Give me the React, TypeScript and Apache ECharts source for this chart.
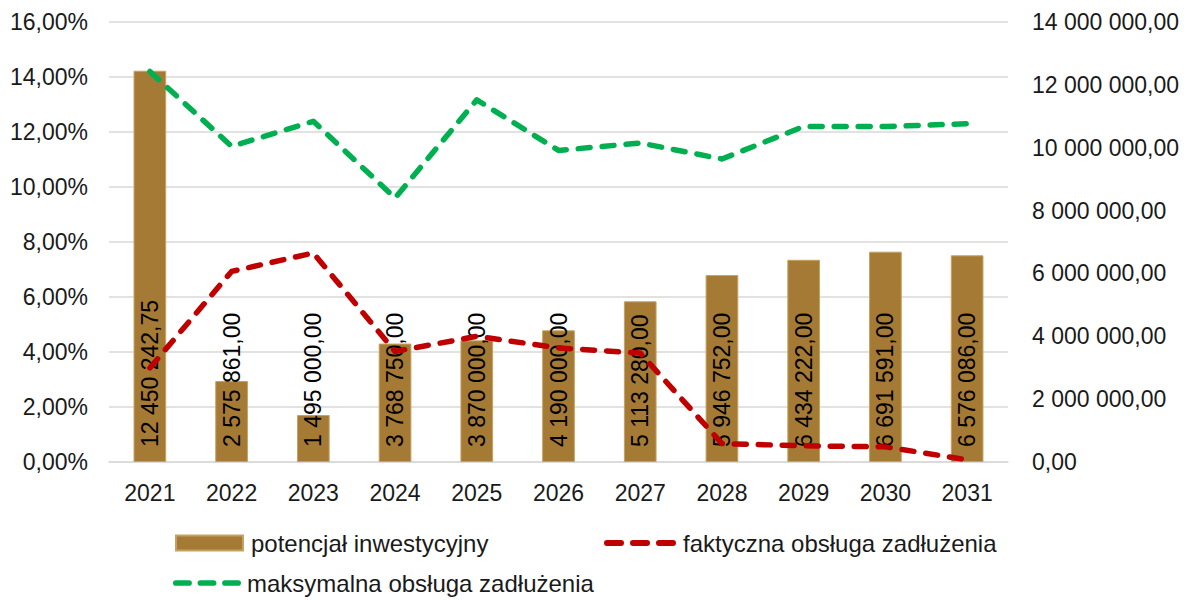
import React, { useEffect, useRef } from "react";
import * as echarts from "echarts";

const years = ["2021", "2022", "2023", "2024", "2025", "2026", "2027", "2028", "2029", "2030", "2031"];
const potencjal = [12450242.75, 2575861.0, 1495000.0, 3768750.0, 3870000.0, 4190000.0, 5113280.0, 5946752.0, 6434222.0, 6691591.0, 6576086.0];
const faktyczna = [0.0342, 0.0693, 0.0760, 0.0402, 0.0457, 0.0415, 0.0396, 0.0067, 0.0059, 0.0055, 0.0008];
const maksymalna = [0.1420, 0.1148, 0.1239, 0.0960, 0.1317, 0.1133, 0.1160, 0.1102, 0.1220, 0.1220, 0.1230];
const seriesNames = ["potencjał inwestycyjny", "faktyczna obsługa zadłużenia", "maksymalna obsługa zadłużenia"];

const FONT = "Liberation Sans, Arial, sans-serif";
const TXT = "#1a1a1a";
const DASH_ICON =
  "path://M3,0H17A3,3 0 0 1 17,6H3A3,3 0 0 1 3,0Z M29,0H43A3,3 0 0 1 43,6H29A3,3 0 0 1 29,0Z M55,0H69A3,3 0 0 1 69,6H55A3,3 0 0 1 55,0Z";

function fmtNum(v: number): string {
  const s = Math.abs(v).toFixed(2);
  const [intPart, dec] = s.split(".");
  const grouped = intPart.replace(/\B(?=(\d{3})+(?!\d))/g, " ");
  return (v < 0 ? "-" : "") + grouped + "," + dec;
}

const legendText = { fontFamily: FONT, fontSize: 24, color: TXT };

export default function App() {
  const ref = useRef<HTMLDivElement>(null);
  useEffect(() => {
    if (!ref.current) return;
    const chart = echarts.init(ref.current, null, { renderer: "svg" });
    chart.setOption({
      animation: false,
      backgroundColor: "#ffffff",
      textStyle: { fontFamily: FONT },
      grid: { left: 109, right: 185, top: 22, bottom: 138, containLabel: false },
      legend: [
        {
          left: 175,
          top: 531,
          padding: 0,
          itemWidth: 67,
          itemHeight: 15,
          textStyle: { ...legendText, padding: [0, 0, 0, 3] },
          data: [{ name: seriesNames[0], icon: "rect" }],
        },
        {
          left: 604,
          top: 531,
          padding: 0,
          itemWidth: 72,
          itemHeight: 6,
          textStyle: { ...legendText, padding: [0, 0, 0, 2] },
          data: [{ name: seriesNames[1], icon: DASH_ICON }],
        },
        {
          left: 173,
          top: 571,
          padding: 0,
          itemWidth: 68,
          itemHeight: 6,
          textStyle: { ...legendText, padding: [0, 0, 0, 1] },
          data: [{ name: seriesNames[2], icon: DASH_ICON }],
        },
      ],
      xAxis: {
        type: "category",
        data: years,
        axisLine: { show: true, lineStyle: { color: "#d9d9d9", width: 1.5 } },
        axisTick: { show: false },
        axisLabel: { fontFamily: FONT, fontSize: 23, color: TXT, margin: 19 },
      },
      yAxis: [
        {
          type: "value",
          min: 0,
          max: 0.16,
          interval: 0.02,
          axisLine: { show: false },
          axisTick: { show: false },
          splitLine: { show: true, lineStyle: { color: "#d9d9d9", width: 1.5 } },
          axisLabel: {
            fontFamily: FONT,
            fontSize: 23,
            color: TXT,
            margin: 21,
            formatter: (v: number) => (v * 100).toFixed(2).replace(".", ",") + "%",
          },
        },
        {
          type: "value",
          min: 0,
          max: 14000000,
          interval: 2000000,
          axisLine: { show: false },
          axisTick: { show: false },
          splitLine: { show: false },
          axisLabel: {
            fontFamily: FONT,
            fontSize: 23,
            color: TXT,
            margin: 24,
            formatter: (v: number) => fmtNum(v),
          },
        },
      ],
      series: [
        {
          name: seriesNames[0],
          type: "bar",
          yAxisIndex: 1,
          data: potencjal,
          barWidth: "40%",
          itemStyle: { color: "#A57A34", borderColor: "#C6A262", borderWidth: 1 },
          label: {
            show: true,
            position: "insideBottom",
            rotate: 90,
            align: "left",
            verticalAlign: "middle",
            distance: 15,
            fontFamily: FONT,
            fontSize: 23,
            color: "#000",
            formatter: (p: any) => fmtNum(p.value),
          },
          z: 2,
        },
        {
          name: seriesNames[1],
          type: "line",
          yAxisIndex: 0,
          data: faktyczna,
          symbol: "none",
          lineStyle: { color: "#C00000", width: 5.5, type: [12, 12], cap: "round", join: "round" },
          itemStyle: { color: "#C00000" },
          z: 3,
        },
        {
          name: seriesNames[2],
          type: "line",
          yAxisIndex: 0,
          data: maksymalna,
          symbol: "none",
          lineStyle: { color: "#00B050", width: 5.5, type: [12, 12], cap: "round", join: "round" },
          itemStyle: { color: "#00B050" },
          z: 3,
        },
      ],
    });
    return () => chart.dispose();
  }, []);
  return (
    <div
      ref={ref}
      style={{ position: "fixed", left: 0, top: 0, width: 1193, height: 600, background: "#fff" }}
    />
  );
}
